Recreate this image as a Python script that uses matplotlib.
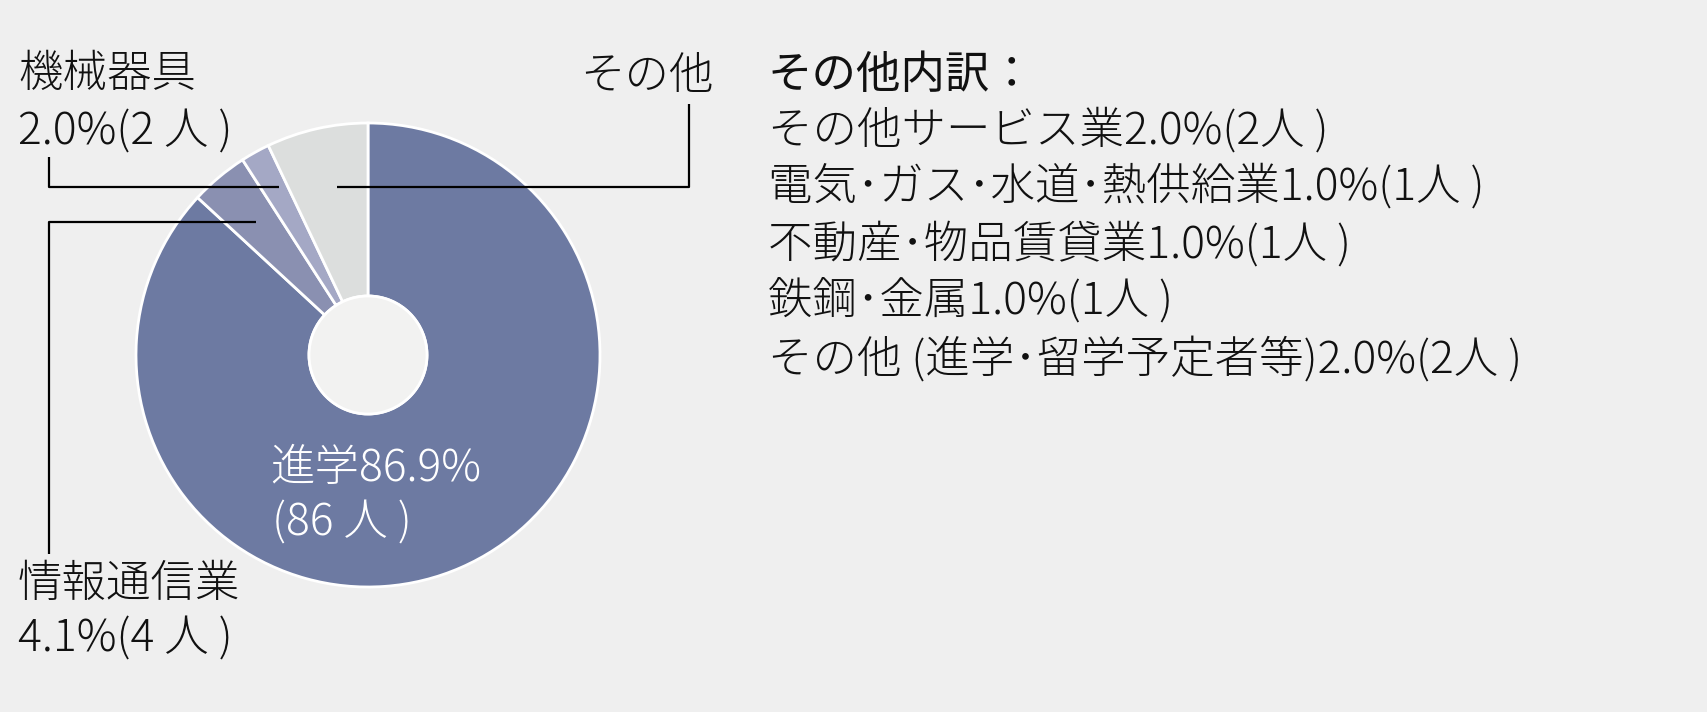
import matplotlib
matplotlib.use("Agg")
import matplotlib.pyplot as plt
from matplotlib.patches import Circle

plt.rcParams['font.family'] = ['Noto Sans CJK JP', 'DejaVu Sans']

# ---- data ----
categories = ["進学", "情報通信業", "機械器具", "その他"]
counts = [86, 4, 2, 7]
percent_labels = ["86.9%", "4.1%", "2.0%", "7.1%"]
colors = ["#6D7AA2", "#8A90B1", "#A4A8C5", "#DCDEDD"]

other_title = "その他内訳："
other_items = [
    "その他サービス業2.0%(2人 )",
    "電気･ガス･水道･熱供給業1.0%(1人 )",
    "不動産･物品賃貸業1.0%(1人 )",
    "鉄鋼･金属1.0%(1人 )",
    "その他 (進学･留学予定者等)2.0%(2人 )",
]

W, H = 1707, 712
BG = "#EFEFEF"
fig = plt.figure(figsize=(W / 100, H / 100), dpi=100, facecolor=BG)
ax = fig.add_axes([0, 0, 1, 1])
ax.set_facecolor(BG)

def Y(y):
    return H - y

cx, cy, R, r_in = 368, 355, 232, 59
ax.pie(counts, colors=colors, startangle=90, counterclock=False,
       center=(cx, Y(cy)), radius=R,
       wedgeprops=dict(width=R - r_in, edgecolor="white", linewidth=2))
ax.add_patch(Circle((cx, Y(cy)), r_in, facecolor="#F2F2F1", edgecolor="white", linewidth=2, zorder=3))

ax.set_xlim(0, W)
ax.set_ylim(0, H)
ax.set_aspect("equal")
ax.axis("off")

FS = 32
wt = "light"
kw = dict(fontsize=FS, fontweight=wt, va="center")
TXT = "#111111"

# leader lines
lw = 1.6
ax.plot([49, 49, 279], [Y(157), Y(187), Y(187)], color="black", lw=lw, solid_capstyle="butt", zorder=5)
ax.plot([337, 689, 689], [Y(187), Y(187), Y(104)], color="black", lw=lw, solid_capstyle="butt", zorder=5)
ax.plot([256, 49, 49], [Y(222), Y(222), Y(554)], color="black", lw=lw, solid_capstyle="butt", zorder=5)

# labels
ax.text(18, Y(75), categories[2], ha="left", color=TXT, **kw)
ax.text(18, Y(132), f"{percent_labels[2]}({counts[2]} 人 )", ha="left", color=TXT, **kw)
ax.text(714, Y(76), categories[3], ha="right", color=TXT, **kw)
ax.text(18, Y(585), categories[1], ha="left", color=TXT, **kw)
ax.text(18, Y(639), f"{percent_labels[1]}({counts[1]} 人 )", ha="left", color=TXT, **kw)
ax.text(270, Y(468), f"{categories[0]}{percent_labels[0]}", ha="left", color="white", zorder=6, **kw)
ax.text(272, Y(523), f"({counts[0]} 人 )", ha="left", color="white", zorder=6, **kw)

# right block
ax.text(768, Y(75), other_title, ha="left", va="center", fontsize=FS, fontweight="normal", color=TXT)
ys = [131, 187, 245, 302, 360]
for t, y in zip(other_items, ys):
    ax.text(768, Y(y), t, ha="left", color=TXT, **kw)

fig.savefig("out.png", dpi=100, facecolor=BG)
